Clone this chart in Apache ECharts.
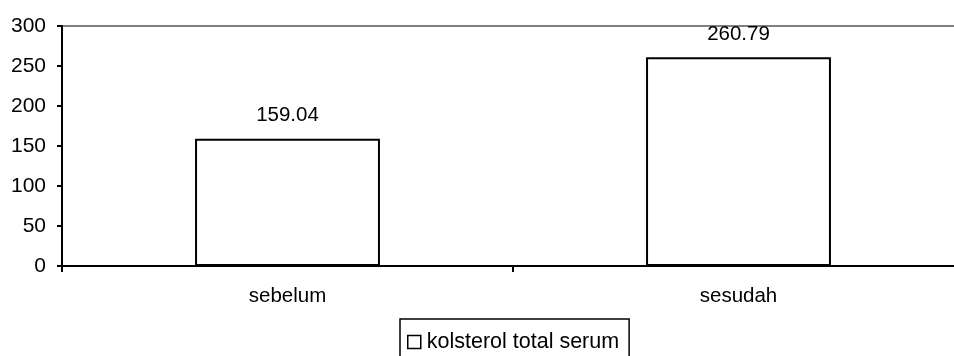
<!DOCTYPE html>
<html>
<head>
<meta charset="utf-8">
<script src="https://cdn.jsdelivr.net/npm/echarts@6/dist/echarts.min.js"></script>
<style>
  html, body { margin: 0; padding: 0; background: #ffffff; }
  #chart { width: 954px; height: 356px; }
</style>
</head>
<body>
<div id="chart"></div>
<script>
// data
const categories = ['sebelum', 'sesudah']
const seriesName = 'kolsterol total serum'
const values = [159.04, 260.79]
const yMin = 0
const yMax = 300
const yStep = 50

const font = '"Liberation Sans", Arial, sans-serif'

const chart = echarts.init(document.getElementById('chart'))
const option = {
  animation: false,
  backgroundColor: '#ffffff',
  textStyle: { fontFamily: font, color: '#000000' },
  grid: {
    left: 62,
    top: 26,
    width: 902,
    height: 240,
    show: true,
    borderColor: '#808080',
    borderWidth: 2,
    outerBoundsMode: 'none'
  },
  legend: {
    data: [seriesName],
    left: 400,
    top: 319,
    padding: [12, 10, 8, 7],
    borderColor: '#000000',
    borderWidth: 1.5,
    itemWidth: 13,
    itemHeight: 13,
    itemGap: 5,
    icon: 'rect',
    itemStyle: { color: '#ffffff', borderColor: '#000000', borderWidth: 1.5 },
    textStyle: { fontFamily: font, fontSize: 21.5, color: '#000000', padding: [0, 0, 0, 1] }
  },
  xAxis: {
    type: 'category',
    data: categories,
    axisLine: { lineStyle: { color: '#000000', width: 2 } },
    axisTick: { show: true, length: 6, lineStyle: { color: '#000000', width: 2 } },
    axisLabel: { margin: 20, fontFamily: font, fontSize: 20.5, color: '#000000' }
  },
  yAxis: {
    type: 'value',
    min: yMin,
    max: yMax,
    interval: yStep,
    axisLine: { show: true, lineStyle: { color: '#000000', width: 2 } },
    axisTick: { show: true, length: 5, lineStyle: { color: '#000000', width: 2 } },
    splitLine: { show: false },
    axisLabel: { margin: 16, fontFamily: font, fontSize: 21, color: '#000000' }
  },
  series: [
    {
      name: seriesName,
      type: 'bar',
      data: values,
      barWidth: '41%',
      itemStyle: { color: '#ffffff', borderColor: '#000000', borderWidth: 2 },
      label: {
        show: true,
        position: 'top',
        distance: 13,
        fontFamily: font,
        fontSize: 20.5,
        color: '#000000',
        formatter: function (p) { return p.value.toFixed(2) }
      }
    }
  ]
}
chart.setOption(option)
</script>
</body>
</html>
